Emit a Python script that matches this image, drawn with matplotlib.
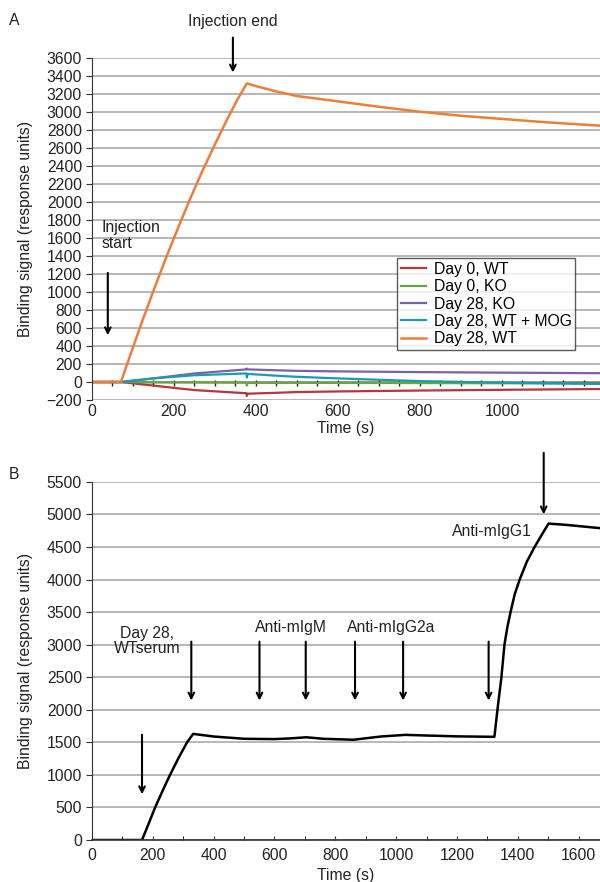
import numpy as np
import matplotlib
matplotlib.use("Agg")
import matplotlib.pyplot as plt

plt.rcParams["font.family"] = ["Liberation Sans", "DejaVu Sans"]
FS = 11.3

# panel A traces (time in s, signal in response units)
t_orange = [0, 71, 90, 120, 150, 180, 210, 240, 270, 300, 330, 355, 378, 400, 450, 500, 600, 700, 800, 900, 1000, 1100, 1239]
y_orange = [0, 0, 250, 640, 1010, 1370, 1710, 2040, 2350, 2640, 2920, 3140, 3320, 3290, 3230, 3180, 3120, 3060, 3005, 2960, 2925, 2890, 2850]

t_small = [0, 71, 150, 250, 377, 378, 380, 450, 500, 600, 800, 1000, 1239]
y_red = [0, 0, -40, -90, -125, -155, -130, -120, -112, -105, -95, -87, -78]
y_green = [0, 0, -3, -5, -8, -40, -10, -10, -10, -10, -12, -14, -15]
y_purple = [0, 0, 40, 95, 140, 150, 140, 130, 124, 118, 110, 104, 98]
y_teal = [0, 0, 40, 75, 95, 50, 90, 70, 58, 40, 10, -8, -22]

series_a = [
    ("Day 0, WT", y_red, "#B5373C"),
    ("Day 0, KO", y_green, "#6BA543"),
    ("Day 28, KO", y_purple, "#7A62A8"),
    ("Day 28, WT + MOG", y_teal, "#1A9BB0"),
]

# panel B trace
t_b = [0, 165, 185, 208, 233, 257, 285, 313, 333, 400, 500, 600, 650, 705, 760, 860, 950, 1030, 1100, 1200, 1323,
       1335, 1346, 1356, 1366, 1376, 1390, 1406, 1430, 1455, 1480, 1501, 1560, 1670]
y_b = [0, 0, 230, 500, 760, 1000, 1260, 1500, 1630, 1590, 1555, 1550, 1560, 1578, 1555, 1540, 1590, 1615, 1605, 1592, 1585,
       2080, 2500, 3000, 3280, 3500, 3780, 4000, 4280, 4500, 4700, 4860, 4840, 4790]

# arrows in panel B: (time, top, bottom)
arrows_b = [(165, 1660, 660), (327, 3090, 2100), (551, 3090, 2100), (703, 3090, 2100),
            (865, 3090, 2100), (1023, 3090, 2100), (1304, 3090, 2100), (1485, 5990, 4960)]

fig = plt.figure(figsize=(6, 8.82), dpi=100)
axA = fig.add_axes([0.153, 0.5465, 0.847, 0.3875])
axB = fig.add_axes([0.153, 0.0476, 0.847, 0.406])


def style(ax):
    for s in ["top", "right"]:
        ax.spines[s].set_visible(False)
    ax.spines["left"].set_color("#333333")
    ax.spines["bottom"].set_color("#333333")
    ax.yaxis.grid(True, color="#aaaaaa", linewidth=1.2)
    ax.set_axisbelow(True)
    ax.tick_params(labelsize=FS, length=4, color="#333333", pad=3, labelcolor="#222222")
    ax.set_ylabel("Binding signal (response units)", fontsize=FS, labelpad=10, color="#222222")
    ax.set_xlabel("Time (s)", fontsize=FS, labelpad=1, color="#222222")


# --- panel A ---
for label, ys, c in series_a:
    axA.plot(t_small, ys, color=c, lw=1.6, label=label)
axA.plot(t_orange, y_orange, color="#EE7D3A", lw=1.8, label="Day 28, WT")
axA.axhline(0, color="#222222", lw=1.0, zorder=1.5)
ticks_x = np.arange(50, 1240, 50)
axA.plot(ticks_x, np.full(len(ticks_x), -15), ls="none", marker="|", ms=4, color="#222222", zorder=1.5)
axA.set_xlim(0, 1239)
axA.set_ylim(-200, 3600)
axA.set_yticks(np.arange(-200, 3601, 200))
axA.set_yticklabels(["\u2212200"] + [str(v) for v in range(0, 3601, 200)])
axA.set_xticks([0, 200, 400, 600, 800, 1000])
style(axA)
axA.tick_params(axis="x", length=0, pad=3)
axA.spines["bottom"].set_visible(False)
leg = axA.legend(loc="upper right", bbox_to_anchor=(0.967, 0.4386), fontsize=FS, frameon=True,
                 fancybox=False, edgecolor="#333333", handlelength=1.6, borderpad=0.25,
                 labelspacing=0.15, handletextpad=0.5)
leg.get_frame().set_linewidth(1.0)
axA.annotate("", xy=(344, 3410), xytext=(344, 3860), annotation_clip=False,
             arrowprops=dict(arrowstyle="->", color="black", lw=1.5))
axA.text(344, 4010, "Injection end", ha="center", va="center", fontsize=FS, color="#222222")
axA.annotate("", xy=(39, 489), xytext=(39, 1244),
             arrowprops=dict(arrowstyle="->", color="black", lw=1.5))
axA.text(24, 1630, "Injection\nstart", ha="left", va="center", fontsize=FS, color="#222222",
         linespacing=1.1)
fig.text(0.015, 0.977, "A", fontsize=FS, va="center", color="#222222")

# --- panel B ---
axB.plot(t_b, y_b, color="black", lw=1.8)
axB.set_xlim(0, 1670)
axB.set_ylim(0, 5500)
axB.set_yticks(np.arange(0, 5501, 500))
axB.set_xticks(np.arange(0, 1601, 200))
axB.set_xticks(np.arange(100, 1670, 200), minor=True)
style(axB)
axB.tick_params(axis="x", which="both", direction="in", length=3, pad=6)
axB.xaxis.labelpad = 3
axB.spines["bottom"].set_linewidth(1.2)
for tx, top, bot in arrows_b:
    axB.annotate("", xy=(tx, bot), xytext=(tx, top), annotation_clip=False,
                 arrowprops=dict(arrowstyle="->", color="black", lw=1.5))
axB.text(181, 3050, "Day 28,\nWTserum", ha="center", va="center", fontsize=FS, color="#222222",
         linespacing=1.0)
axB.text(653, 3260, "Anti-mIgM", ha="center", va="center", fontsize=FS, color="#222222")
axB.text(985, 3270, "Anti-mIgG2a", ha="center", va="center", fontsize=FS, color="#222222")
axB.text(1445, 4740, "Anti-mIgG1", ha="right", va="center", fontsize=FS, color="#222222")
fig.text(0.015, 0.4615, "B", fontsize=FS, va="center", color="#222222")

fig.savefig("out.png", dpi=100)
